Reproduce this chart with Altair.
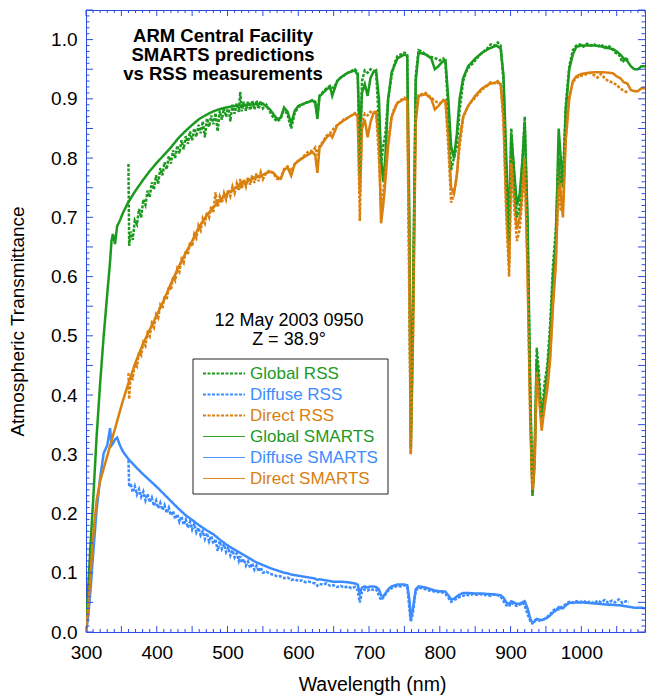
import altair as alt
import pandas as pd

FONT = "Liberation Sans"
GREEN = "#1c9a1f"
BLUE = "#3d8cff"
ORANGE = "#d9800f"
AXC = "#2b4de6"

W, H = 559, 622

# ---------------- SMARTS model (thin lines) ----------------
SM_WL = [300, 303, 306, 310, 315, 320, 325, 330, 334, 336,
         338, 341, 344, 348, 352, 360, 370, 380, 390, 400,
         410, 420, 430, 440, 450, 460, 470, 480, 490, 500,
         510, 520, 530, 540, 550, 560, 565, 570, 575, 580,
         585, 590, 595, 600, 610, 620, 624, 627, 630, 640,
         645, 648, 655, 660, 670, 680, 684, 687, 690, 694,
         698, 702, 706, 710, 714, 717, 720, 723, 727, 732,
         740, 750, 754, 757, 759, 762, 766, 770, 780, 788,
         793, 798, 803, 808, 812, 816, 820, 824, 828, 833,
         840, 850, 860, 870, 880, 886, 890, 894, 898, 901,
         905, 909, 913, 917, 920, 924, 928, 931, 934, 937,
         940, 944, 948, 952, 956, 960, 964, 968, 971, 974,
         978, 983, 988, 993, 1000, 1010, 1020, 1030, 1040, 1045,
         1050, 1055, 1060, 1065, 1070, 1075, 1080, 1085, 1090]

SM_GLOBAL = [0.000, 0.070, 0.140, 0.220, 0.330, 0.420, 0.500, 0.570, 0.625, 0.660,
             0.672, 0.655, 0.685, 0.695, 0.707, 0.726, 0.745, 0.762, 0.778, 0.792,
             0.805, 0.818, 0.833, 0.845, 0.856, 0.866, 0.873, 0.879, 0.883, 0.886,
             0.888, 0.889, 0.890, 0.891, 0.892, 0.882, 0.874, 0.866, 0.868, 0.885,
             0.878, 0.858, 0.880, 0.888, 0.893, 0.897, 0.893, 0.866, 0.904, 0.916,
             0.920, 0.905, 0.930, 0.936, 0.944, 0.948, 0.940, 0.830, 0.910, 0.925,
             0.905, 0.935, 0.945, 0.948, 0.900, 0.800, 0.760, 0.800, 0.900, 0.945,
             0.968, 0.975, 0.972, 0.700, 0.340, 0.550, 0.930, 0.978, 0.975, 0.968,
             0.950, 0.955, 0.962, 0.965, 0.900, 0.820, 0.800, 0.840, 0.900, 0.935,
             0.955, 0.968, 0.978, 0.985, 0.990, 0.985, 0.940, 0.800, 0.680, 0.840,
             0.780, 0.720, 0.740, 0.800, 0.860, 0.700, 0.400, 0.240, 0.300, 0.460,
             0.420, 0.360, 0.400, 0.440, 0.500, 0.600, 0.660, 0.850, 0.800, 0.750,
             0.880, 0.950, 0.975, 0.988, 0.990, 0.990, 0.990, 0.988, 0.985, 0.984,
             0.980, 0.975, 0.968, 0.964, 0.955, 0.950, 0.950, 0.955, 0.955]

SM_DIRECT = [0.000, 0.040, 0.090, 0.160, 0.222, 0.255, 0.276, 0.297, 0.314, 0.322,
             0.331, 0.343, 0.356, 0.373, 0.390, 0.420, 0.455, 0.485, 0.510, 0.535,
             0.560, 0.588, 0.614, 0.638, 0.660, 0.684, 0.702, 0.717, 0.730, 0.740,
             0.749, 0.756, 0.762, 0.768, 0.772, 0.777, 0.775, 0.768, 0.765, 0.780,
             0.784, 0.770, 0.790, 0.795, 0.803, 0.810, 0.805, 0.775, 0.817, 0.835,
             0.840, 0.835, 0.855, 0.860, 0.868, 0.875, 0.870, 0.740, 0.850, 0.865,
             0.835, 0.860, 0.875, 0.878, 0.830, 0.690, 0.720, 0.760, 0.820, 0.870,
             0.893, 0.900, 0.898, 0.650, 0.300, 0.500, 0.860, 0.905, 0.908, 0.900,
             0.882, 0.888, 0.895, 0.898, 0.840, 0.750, 0.740, 0.770, 0.830, 0.870,
             0.888, 0.905, 0.918, 0.925, 0.928, 0.925, 0.870, 0.720, 0.620, 0.800,
             0.740, 0.680, 0.700, 0.750, 0.800, 0.620, 0.360, 0.230, 0.280, 0.430,
             0.400, 0.340, 0.380, 0.410, 0.460, 0.550, 0.620, 0.790, 0.740, 0.700,
             0.830, 0.900, 0.930, 0.938, 0.942, 0.944, 0.945, 0.945, 0.944, 0.943,
             0.938, 0.935, 0.928, 0.926, 0.915, 0.913, 0.913, 0.918, 0.918]

SM_DIFFUSE = [0.000, 0.025, 0.065, 0.130, 0.206, 0.260, 0.302, 0.315, 0.344, 0.315,
              0.318, 0.325, 0.328, 0.315, 0.305, 0.292, 0.279, 0.267, 0.256, 0.245,
              0.233, 0.221, 0.209, 0.198, 0.189, 0.180, 0.172, 0.165, 0.155, 0.146,
              0.139, 0.132, 0.125, 0.118, 0.113, 0.108, 0.106, 0.104, 0.102, 0.100,
              0.099, 0.097, 0.096, 0.095, 0.093, 0.091, 0.090, 0.088, 0.089, 0.087,
              0.086, 0.085, 0.085, 0.085, 0.084, 0.082, 0.080, 0.065, 0.075, 0.077,
              0.075, 0.077, 0.077, 0.076, 0.072, 0.062, 0.060, 0.065, 0.072, 0.077,
              0.080, 0.080, 0.079, 0.055, 0.022, 0.040, 0.072, 0.077, 0.075, 0.072,
              0.070, 0.069, 0.069, 0.068, 0.062, 0.055, 0.056, 0.060, 0.063, 0.066,
              0.066, 0.065, 0.065, 0.064, 0.063, 0.062, 0.058, 0.050, 0.047, 0.052,
              0.050, 0.047, 0.048, 0.050, 0.052, 0.040, 0.022, 0.015, 0.018, 0.022,
              0.021, 0.020, 0.022, 0.024, 0.028, 0.033, 0.036, 0.042, 0.040, 0.040,
              0.045, 0.049, 0.050, 0.050, 0.050, 0.049, 0.048, 0.047, 0.046, 0.046,
              0.045, 0.045, 0.044, 0.043, 0.042, 0.041, 0.041, 0.041, 0.040]

# ---------------- RSS measurements (thick dotted lines) ----------------
RSS_WL = [360, 361, 363, 366, 369, 372, 375, 378, 381, 384,
          387, 390, 393, 396, 399, 402, 405, 408, 411, 414,
          417, 420, 423, 426, 429, 432, 435, 438, 441, 444,
          447, 450, 453, 456, 459, 462, 465, 468, 471, 474,
          477, 480, 483, 486, 489, 492, 495, 498, 501, 504,
          507, 510, 513, 516, 518, 520, 523, 526, 529, 532,
          535, 538, 541, 544, 547, 550, 555, 560, 565, 570,
          575, 580, 585, 590, 595, 600, 605, 610, 615, 620,
          624, 627, 630, 635, 640, 645, 650, 655, 660, 665,
          670, 675, 680, 684, 687, 690, 694, 698, 702, 706,
          710, 714, 717, 720, 723, 727, 732, 736, 740, 745,
          750, 754, 757, 759, 762, 766, 770, 775, 780, 785,
          790, 795, 800, 805, 808, 812, 816, 820, 824, 828,
          833, 837, 842, 847, 852, 857, 862, 867, 872, 877,
          882, 886, 890, 894, 898, 901, 905, 909, 913, 917,
          920, 924, 928, 931, 934, 937, 940, 944, 948, 952,
          956, 960, 964, 968, 971, 974, 978, 983, 988, 993,
          998, 1003, 1008, 1013, 1018, 1023, 1028, 1033, 1038, 1043,
          1048, 1053, 1058, 1063, 1067]

RSS_GLOBAL = [0.790, 0.652, 0.676, 0.662, 0.695, 0.688, 0.714, 0.700, 0.730, 0.721,
              0.745, 0.734, 0.759, 0.747, 0.771, 0.757, 0.783, 0.771, 0.793, 0.781,
              0.803, 0.791, 0.813, 0.800, 0.821, 0.808, 0.830, 0.815, 0.837, 0.824,
              0.845, 0.830, 0.850, 0.836, 0.856, 0.842, 0.862, 0.835, 0.867, 0.853,
              0.872, 0.857, 0.876, 0.845, 0.880, 0.865, 0.884, 0.870, 0.887, 0.862,
              0.890, 0.875, 0.892, 0.878, 0.912, 0.879, 0.895, 0.880, 0.896, 0.881,
              0.897, 0.882, 0.897, 0.883, 0.896, 0.884, 0.890, 0.878, 0.868, 0.862,
              0.866, 0.884, 0.872, 0.850, 0.876, 0.886, 0.890, 0.893, 0.895, 0.898,
              0.895, 0.874, 0.905, 0.912, 0.918, 0.922, 0.918, 0.930, 0.936, 0.940,
              0.944, 0.947, 0.950, 0.945, 0.770, 0.930, 0.948, 0.944, 0.950, 0.948,
              0.945, 0.860, 0.790, 0.820, 0.840, 0.900, 0.940, 0.960, 0.972, 0.975,
              0.978, 0.974, 0.600, 0.310, 0.520, 0.940, 0.982, 0.980, 0.975, 0.972,
              0.970, 0.968, 0.965, 0.968, 0.960, 0.880, 0.780, 0.800, 0.820, 0.880,
              0.930, 0.945, 0.955, 0.960, 0.968, 0.975, 0.980, 0.985, 0.992, 0.990,
              0.995, 0.990, 0.930, 0.760, 0.660, 0.850, 0.770, 0.700, 0.720, 0.800,
              0.870, 0.680, 0.380, 0.230, 0.300, 0.480, 0.440, 0.360, 0.420, 0.450,
              0.520, 0.620, 0.680, 0.800, 0.760, 0.760, 0.890, 0.955, 0.982, 0.990,
              0.992, 0.988, 0.993, 0.990, 0.992, 0.988, 0.992, 0.986, 0.990, 0.985,
              0.978, 0.975, 0.962, 0.968, 0.965]

RSS_DIRECT = [0.437, 0.393, 0.432, 0.428, 0.452, 0.448, 0.472, 0.467, 0.489, 0.483,
              0.505, 0.499, 0.521, 0.514, 0.536, 0.530, 0.552, 0.546, 0.568, 0.561,
              0.583, 0.577, 0.599, 0.593, 0.614, 0.608, 0.629, 0.623, 0.644, 0.637,
              0.658, 0.651, 0.672, 0.665, 0.686, 0.678, 0.698, 0.690, 0.709, 0.700,
              0.719, 0.709, 0.742, 0.717, 0.735, 0.724, 0.741, 0.730, 0.747, 0.736,
              0.752, 0.741, 0.757, 0.745, 0.765, 0.748, 0.764, 0.752, 0.768, 0.755,
              0.771, 0.758, 0.774, 0.761, 0.776, 0.764, 0.776, 0.779, 0.774, 0.765,
              0.764, 0.782, 0.786, 0.778, 0.790, 0.796, 0.800, 0.806, 0.812, 0.812,
              0.818, 0.805, 0.820, 0.828, 0.838, 0.842, 0.850, 0.856, 0.860, 0.866,
              0.868, 0.872, 0.876, 0.872, 0.694, 0.860, 0.875, 0.872, 0.878, 0.876,
              0.880, 0.800, 0.720, 0.740, 0.780, 0.830, 0.870, 0.885, 0.893, 0.898,
              0.902, 0.900, 0.550, 0.300, 0.480, 0.880, 0.906, 0.908, 0.910, 0.905,
              0.900, 0.895, 0.892, 0.898, 0.894, 0.820, 0.725, 0.740, 0.770, 0.820,
              0.868, 0.880, 0.892, 0.898, 0.905, 0.912, 0.918, 0.922, 0.928, 0.926,
              0.930, 0.925, 0.860, 0.700, 0.600, 0.790, 0.720, 0.660, 0.680, 0.740,
              0.800, 0.600, 0.340, 0.240, 0.280, 0.440, 0.400, 0.350, 0.380, 0.420,
              0.470, 0.560, 0.630, 0.750, 0.710, 0.720, 0.840, 0.905, 0.928, 0.936,
              0.938, 0.940, 0.942, 0.944, 0.940, 0.936, 0.942, 0.935, 0.930, 0.928,
              0.925, 0.920, 0.915, 0.912, 0.910]

RSS_DIFFUSE = [0.290, 0.245, 0.251, 0.236, 0.246, 0.232, 0.241, 0.228, 0.237, 0.222,
               0.233, 0.219, 0.227, 0.213, 0.222, 0.209, 0.218, 0.206, 0.214, 0.201,
               0.210, 0.197, 0.204, 0.191, 0.199, 0.186, 0.195, 0.181, 0.190, 0.176,
               0.186, 0.173, 0.183, 0.168, 0.176, 0.163, 0.170, 0.157, 0.167, 0.153,
               0.162, 0.149, 0.157, 0.137, 0.153, 0.140, 0.148, 0.135, 0.143, 0.129,
               0.138, 0.126, 0.133, 0.120, 0.128, 0.117, 0.123, 0.112, 0.119, 0.108,
               0.116, 0.105, 0.112, 0.102, 0.109, 0.100, 0.102, 0.098, 0.097, 0.094,
               0.094, 0.091, 0.092, 0.088, 0.089, 0.086, 0.087, 0.084, 0.085, 0.083,
               0.082, 0.078, 0.081, 0.080, 0.082, 0.078, 0.079, 0.076, 0.078, 0.075,
               0.077, 0.074, 0.076, 0.070, 0.050, 0.068, 0.072, 0.070, 0.073, 0.071,
               0.072, 0.062, 0.054, 0.058, 0.063, 0.070, 0.074, 0.076, 0.078, 0.077,
               0.079, 0.076, 0.040, 0.017, 0.032, 0.070, 0.075, 0.074, 0.072, 0.070,
               0.069, 0.067, 0.068, 0.066, 0.064, 0.058, 0.051, 0.054, 0.056, 0.059,
               0.061, 0.063, 0.062, 0.064, 0.063, 0.064, 0.062, 0.063, 0.061, 0.064,
               0.062, 0.060, 0.052, 0.045, 0.043, 0.050, 0.046, 0.044, 0.046, 0.050,
               0.044, 0.030, 0.018, 0.015, 0.020, 0.021, 0.019, 0.021, 0.022, 0.026,
               0.030, 0.036, 0.040, 0.038, 0.042, 0.043, 0.047, 0.051, 0.049, 0.052,
               0.050, 0.053, 0.049, 0.052, 0.048, 0.053, 0.050, 0.054, 0.049, 0.053,
               0.050, 0.055, 0.049, 0.052, 0.050]

SERIES = ["Global RSS", "Diffuse RSS", "Direct RSS",
          "Global SMARTS", "Diffuse SMARTS", "Direct SMARTS"]
COLORS = [GREEN, BLUE, ORANGE, GREEN, BLUE, ORANGE]
DASHES = [[3, 1.5], [3, 1.5], [3, 1.5], [1, 0], [1, 0], [1, 0]]
WIDTHS = [2.5, 2.5, 2.5, 0.9, 0.9, 0.9]

X_LABELS = [300, 400, 500, 600, 700, 800, 900, 1000]
Y_LABELS = [0.0, 0.1, 0.2, 0.3, 0.4, 0.5, 0.6, 0.7, 0.8, 0.9, 1.0]

TITLE_LINES = ["ARM Central Facility", "SMARTS predictions", "vs RSS measurements"]
DATE_LINES = ["12 May 2003 0950", "Z = 38.9\u00b0"]

rows = []
for name, vals in [("Global SMARTS", SM_GLOBAL), ("Diffuse SMARTS", SM_DIFFUSE),
                   ("Direct SMARTS", SM_DIRECT)]:
    for i, (w, v) in enumerate(zip(SM_WL, vals)):
        rows.append({"wl": w, "t": v, "series": name, "k": i})
for name, vals in [("Global RSS", RSS_GLOBAL), ("Diffuse RSS", RSS_DIFFUSE),
                   ("Direct RSS", RSS_DIRECT)]:
    for i, (w, v) in enumerate(zip(RSS_WL, vals)):
        rows.append({"wl": w, "t": v, "series": name, "k": i})
df = pd.DataFrame(rows)

xs = alt.Scale(domain=[300, 1090], nice=False, zero=False)
ys = alt.Scale(domain=[0, 1.05], nice=False, zero=False)

x_axis = alt.Axis(title="Wavelength (nm)", values=X_LABELS, format="d",
                  ticks=False, domain=False, grid=False, labelPadding=11,
                  labelFontSize=19, titleFontSize=19.5, titlePadding=13,
                  titleX=286, titleAlign="center",
                  labelFlush=False, labelOverlap=False)
y_axis = alt.Axis(title="Atmospheric Transmittance", values=Y_LABELS,
                  format=".1f", ticks=False, domain=False, grid=False,
                  labelPadding=9, labelFontSize=19, titleFontSize=19,
                  titlePadding=23, labelFlush=False, labelOverlap=False)

lines = alt.Chart(df).mark_line(clip=True).encode(
    x=alt.X("wl:Q", scale=xs, axis=x_axis),
    y=alt.Y("t:Q", scale=ys, axis=y_axis),
    color=alt.Color("series:N", scale=alt.Scale(domain=SERIES, range=COLORS), legend=None),
    strokeDash=alt.StrokeDash("series:N", scale=alt.Scale(domain=SERIES, range=DASHES), legend=None),
    strokeWidth=alt.StrokeWidth("series:N", scale=alt.Scale(domain=SERIES, range=WIDTHS), legend=None),
    order="k:Q",
)

# tick marks (inward, on all four sides)
X_MAJOR = list(range(300, 1090, 50))
X_MINOR = [v for v in range(300, 1091, 10) if v % 50 != 0]
Y_MAJOR = [round(i * 0.05, 2) for i in range(0, 22)]
Y_MINOR = [round(i * 0.01, 2) for i in range(0, 106) if i % 5 != 0]

def xticks(vals, length):
    d = pd.DataFrame({"wl": vals})
    base = alt.Chart(d).mark_rule(color=AXC, strokeWidth=1)
    b = base.encode(x=alt.X("wl:Q", scale=xs, axis=x_axis), y=alt.value(H), y2=alt.value(H - length))
    t = base.encode(x=alt.X("wl:Q", scale=xs, axis=x_axis), y=alt.value(0), y2=alt.value(length))
    return [b, t]

def yticks(vals, length):
    d = pd.DataFrame({"t": vals})
    base = alt.Chart(d).mark_rule(color=AXC, strokeWidth=1)
    l = base.encode(y=alt.Y("t:Q", scale=ys, axis=y_axis), x=alt.value(0), x2=alt.value(length))
    r = base.encode(y=alt.Y("t:Q", scale=ys, axis=y_axis), x=alt.value(W), x2=alt.value(W - length))
    return [l, r]

ticks = xticks(X_MAJOR, 6) + xticks(X_MINOR, 3) + yticks(Y_MAJOR, 7) + yticks(Y_MINOR, 3.5)

one = pd.DataFrame({"a": [0]})

text_layers = []
for i, line in enumerate(TITLE_LINES):
    text_layers.append(alt.Chart(one).mark_text(
        text=line, font=FONT, fontSize=18.5, fontWeight="bold", align="center",
        baseline="alphabetic", color="black",
    ).encode(x=alt.value(137), y=alt.value(31.7 + 19 * i)))
for i, line in enumerate(DATE_LINES):
    text_layers.append(alt.Chart(one).mark_text(
        text=line, font=FONT, fontSize=18, align="center",
        baseline="alphabetic", color="black",
    ).encode(x=alt.value(203), y=alt.value(316 + 18.5 * i)))

# legend box with line samples and coloured labels
legend_layers = [
    alt.Chart(one).mark_rect(fill="white", stroke="#222222", strokeWidth=1).encode(
        x=alt.value(107), x2=alt.value(302), y=alt.value(349), y2=alt.value(484))
]
for i, (name, col, dash, wd) in enumerate(zip(SERIES, COLORS, DASHES, WIDTHS)):
    yy = 363.5 + 21 * i
    legend_layers.append(
        alt.Chart(one).mark_rule(color=col, strokeDash=dash, strokeWidth=min(wd, 2)).encode(
            x=alt.value(117), x2=alt.value(159), y=alt.value(yy)))
    legend_layers.append(
        alt.Chart(one).mark_text(text=name, color=col, font=FONT, fontSize=17,
                                 align="left", baseline="middle").encode(
            x=alt.value(164), y=alt.value(yy)))

chart = alt.layer(lines, *ticks, *text_layers, *legend_layers).properties(
    width=W, height=H,
    padding={"left": 86, "top": 10, "right": 2, "bottom": 68},
    autosize=alt.AutoSizeParams(type="none"),
).configure_view(stroke=AXC, strokeWidth=1).configure_axis(
    labelFont=FONT, titleFont=FONT, labelColor="black", titleColor="black",
    titleFontWeight="normal", ticks=False, domain=False, grid=False,
)

chart.save("out.html", embed_options={"renderer": "svg", "actions": False})
